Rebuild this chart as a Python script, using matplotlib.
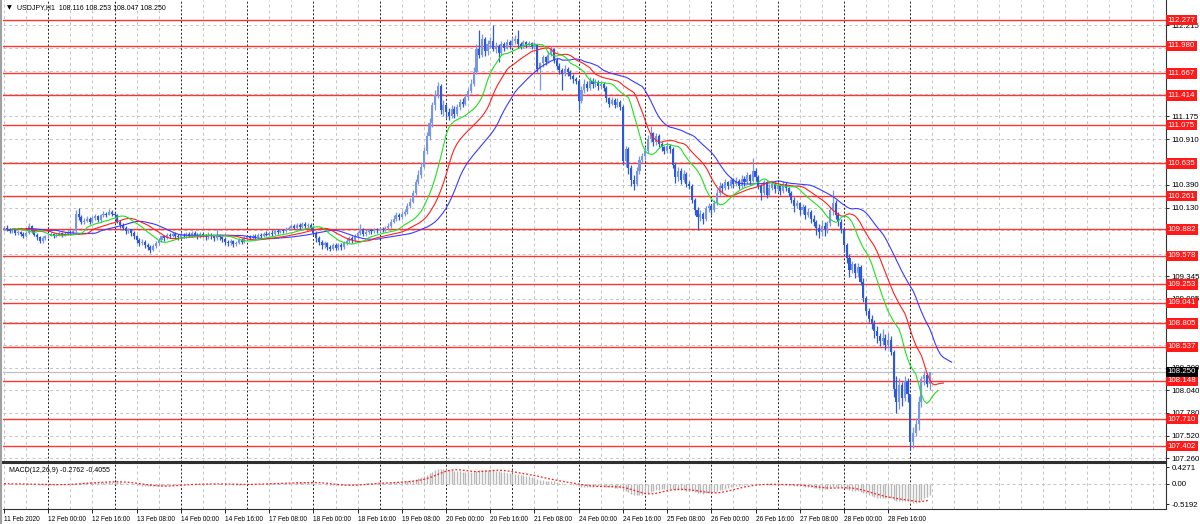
import numpy as np
import pandas as pd
import matplotlib.pyplot as plt

# USDJPY H1 bars, 11 Feb 2020 08:00 .. 2 Mar 2020 07:00
first_open = 109.88
close = [
    109.90, 109.88, 109.86, 109.87, 109.84, 109.85, 109.83, 109.80,
    109.84, 109.92, 109.86, 109.82, 109.79, 109.75, 109.78, 109.80,
    109.81, 109.83, 109.80, 109.82, 109.84, 109.81, 109.83, 109.85,
    109.84, 109.86, 110.06, 110.02, 109.96, 109.98, 110.00, 109.97,
    110.01, 110.03, 109.99, 110.04, 110.06, 110.05, 110.08, 110.06,
    110.04, 109.97, 109.93, 109.90, 109.86, 109.88, 109.84, 109.80,
    109.76, 109.72, 109.74, 109.70, 109.68, 109.65, 109.69, 109.72,
    109.76, 109.80, 109.78, 109.82, 109.80, 109.83, 109.81, 109.79,
    109.82, 109.80, 109.83, 109.81, 109.84, 109.82, 109.80, 109.83,
    109.81, 109.79, 109.82, 109.80, 109.78, 109.81, 109.79, 109.77,
    109.74, 109.72, 109.75, 109.71, 109.73, 109.76, 109.74, 109.78,
    109.80, 109.78, 109.81, 109.79, 109.82, 109.80, 109.83, 109.82,
    109.84, 109.83, 109.86, 109.85, 109.87, 109.86, 109.89, 109.90,
    109.92, 109.90, 109.93, 109.91, 109.94, 109.92, 109.93, 109.90,
    109.84, 109.78, 109.74, 109.70, 109.72, 109.68, 109.66, 109.70,
    109.67, 109.70, 109.68, 109.72, 109.75, 109.78, 109.76, 109.80,
    109.84, 109.88, 109.83, 109.85, 109.87, 109.86, 109.88, 109.87,
    109.89, 109.88, 109.90, 109.92, 109.97, 110.00, 110.04, 110.02,
    110.06, 110.08, 110.15, 110.20, 110.30, 110.42, 110.50, 110.60,
    110.78, 110.95, 111.10, 111.30, 111.42, 111.52, 111.25, 111.30,
    111.22, 111.18, 111.26, 111.20, 111.28, 111.34, 111.32, 111.40,
    111.46, 111.55, 111.68, 111.95, 111.88, 112.06, 111.92, 112.00,
    112.04, 111.95, 111.98, 111.90, 112.00, 111.96, 112.02, 111.99,
    112.04, 112.06, 112.00, 111.98, 112.02, 111.99, 112.01, 111.97,
    111.99, 111.72, 111.78, 111.85, 111.80, 111.88, 111.95, 111.82,
    111.75, 111.70, 111.66, 111.72, 111.68, 111.64, 111.60, 111.58,
    111.35, 111.48, 111.55, 111.50, 111.58, 111.54, 111.57, 111.52,
    111.55, 111.50, 111.38, 111.32, 111.36, 111.30, 111.34, 111.28,
    110.66, 110.80, 110.58, 110.45, 110.40, 110.55, 110.68, 110.72,
    110.78, 110.92, 110.98, 110.88, 110.95, 110.86, 110.82, 110.78,
    110.84, 110.80, 110.62, 110.48, 110.55, 110.45, 110.52, 110.40,
    110.38, 110.22, 110.10, 110.02, 110.06, 110.00, 110.12, 110.15,
    110.10, 110.18, 110.30, 110.38, 110.35, 110.42, 110.38, 110.45,
    110.40, 110.44, 110.38, 110.46, 110.42, 110.50, 110.44, 110.55,
    110.48, 110.38, 110.30, 110.42, 110.28, 110.36, 110.40, 110.34,
    110.38, 110.32, 110.40, 110.35, 110.30, 110.22, 110.15, 110.18,
    110.10, 110.14, 110.05, 110.08, 110.00, 109.96, 109.90, 109.85,
    109.92, 109.88, 109.95, 110.10, 110.18, 110.05, 109.96, 109.88,
    109.70, 109.55, 109.42, 109.48, 109.38, 109.45, 109.28, 109.10,
    108.95, 108.86, 108.80, 108.72, 108.66, 108.60, 108.64, 108.56,
    108.62, 108.48, 108.05, 107.90, 108.10, 107.95, 108.15, 108.00,
    107.45, 107.55, 107.65, 107.90, 108.17, 108.22, 108.116, 108.250,
]
high = [
    109.92, 109.93, 109.90, 109.89, 109.88, 109.87, 109.86, 109.85,
    109.86, 109.95, 109.93, 109.87, 109.84, 109.81, 109.80, 109.82,
    109.83, 109.85, 109.84, 109.84, 109.86, 109.85, 109.85, 109.87,
    109.87, 109.88, 110.10, 110.13, 110.04, 110.01, 110.03, 110.02,
    110.03, 110.06, 110.05, 110.06, 110.09, 110.08, 110.11, 110.10,
    110.08, 110.06, 109.99, 109.95, 109.92, 109.90, 109.89, 109.86,
    109.82, 109.78, 109.77, 109.76, 109.72, 109.70, 109.71, 109.75,
    109.78, 109.82, 109.82, 109.84, 109.84, 109.85, 109.85, 109.83,
    109.85, 109.84, 109.85, 109.85, 109.86, 109.86, 109.84, 109.85,
    109.85, 109.83, 109.85, 109.84, 109.82, 109.88, 109.83, 109.81,
    109.79, 109.76, 109.77, 109.76, 109.75, 109.78, 109.78, 109.80,
    109.82, 109.82, 109.83, 109.83, 109.84, 109.84, 109.85, 109.86,
    109.86, 109.87, 109.88, 109.88, 109.89, 109.89, 109.91, 109.92,
    109.94, 109.94, 109.95, 109.95, 109.96, 109.96, 109.95, 109.95,
    109.92, 109.86, 109.80, 109.76, 109.75, 109.74, 109.70, 109.73,
    109.72, 109.73, 109.72, 109.75, 109.78, 109.81, 109.80, 109.83,
    109.86, 109.94, 109.90, 109.88, 109.89, 109.89, 109.90, 109.90,
    109.91, 109.91, 109.92, 109.95, 110.00, 110.04, 110.08, 110.07,
    110.09, 110.11, 110.18, 110.24, 110.33, 110.46, 110.56, 110.65,
    110.82, 110.99, 111.15, 111.34, 111.48, 111.57, 111.55, 111.36,
    111.32, 111.27, 111.30, 111.29, 111.32, 111.37, 111.38, 111.43,
    111.50, 111.60, 111.74, 112.00, 112.16, 112.12, 112.08, 112.05,
    112.08, 112.22, 112.02, 112.00, 112.04, 112.03, 112.06, 112.05,
    112.08, 112.10, 112.16, 112.03, 112.05, 112.04, 112.04, 112.03,
    112.02, 112.00, 111.80, 111.88, 111.87, 111.92, 111.98, 111.96,
    111.84, 111.78, 111.73, 111.76, 111.74, 111.70, 111.66, 111.63,
    111.60, 111.52, 111.60, 111.58, 111.62, 111.61, 111.60, 111.59,
    111.58, 111.57, 111.52, 111.40, 111.40, 111.38, 111.38, 111.36,
    111.30, 110.84, 110.82, 110.62, 110.50, 110.60, 110.72, 110.76,
    110.82, 110.96, 111.06, 111.00, 110.98, 110.97, 110.88, 110.84,
    110.88, 110.86, 110.82, 110.64, 110.60, 110.58, 110.56, 110.54,
    110.44, 110.40, 110.24, 110.14, 110.10, 110.08, 110.15, 110.18,
    110.17, 110.22, 110.34, 110.42, 110.41, 110.46, 110.44, 110.48,
    110.47, 110.48, 110.46, 110.50, 110.49, 110.54, 110.52, 110.70,
    110.58, 110.50, 110.40, 110.45, 110.43, 110.40, 110.44, 110.42,
    110.42, 110.40, 110.43, 110.42, 110.37, 110.32, 110.25, 110.22,
    110.20, 110.17, 110.16, 110.12, 110.10, 110.04, 109.99, 109.94,
    109.99, 109.96, 109.98, 110.14, 110.33, 110.22, 110.08, 110.00,
    109.90, 109.72, 109.60, 109.52, 109.50, 109.50, 109.47, 109.32,
    109.12, 108.98, 108.90, 108.84, 108.78, 108.70, 108.74, 108.68,
    108.70, 108.66, 108.50, 108.20, 108.18, 108.14, 108.20, 108.18,
    107.60, 107.62, 107.72, 107.98, 108.20, 108.26, 108.24, 108.253,
]
low = [
    109.86, 109.86, 109.84, 109.84, 109.82, 109.82, 109.80, 109.78,
    109.79, 109.83, 109.84, 109.80, 109.76, 109.72, 109.73, 109.76,
    109.78, 109.80, 109.78, 109.79, 109.81, 109.79, 109.80, 109.82,
    109.82, 109.83, 109.85, 109.99, 109.94, 109.94, 109.96, 109.94,
    109.95, 109.99, 109.97, 109.97, 110.02, 110.02, 110.04, 110.03,
    110.01, 109.95, 109.90, 109.87, 109.83, 109.84, 109.81, 109.77,
    109.73, 109.69, 109.70, 109.67, 109.65, 109.61, 109.63, 109.67,
    109.70, 109.74, 109.75, 109.77, 109.78, 109.79, 109.78, 109.76,
    109.77, 109.78, 109.78, 109.79, 109.80, 109.80, 109.77, 109.78,
    109.79, 109.76, 109.77, 109.77, 109.75, 109.76, 109.76, 109.74,
    109.70, 109.69, 109.70, 109.68, 109.69, 109.71, 109.71, 109.72,
    109.76, 109.76, 109.77, 109.77, 109.78, 109.78, 109.79, 109.80,
    109.80, 109.81, 109.82, 109.83, 109.84, 109.84, 109.85, 109.87,
    109.88, 109.88, 109.89, 109.89, 109.90, 109.90, 109.90, 109.87,
    109.82, 109.74, 109.70, 109.66, 109.67, 109.65, 109.63, 109.64,
    109.64, 109.65, 109.65, 109.66, 109.70, 109.73, 109.72, 109.74,
    109.78, 109.82, 109.80, 109.81, 109.83, 109.83, 109.84, 109.84,
    109.85, 109.85, 109.86, 109.88, 109.90, 109.95, 109.98, 109.99,
    110.00, 110.03, 110.06, 110.12, 110.18, 110.28, 110.40, 110.47,
    110.58, 110.74, 110.90, 111.05, 111.25, 111.38, 111.20, 111.18,
    111.16, 111.13, 111.15, 111.16, 111.18, 111.25, 111.28, 111.30,
    111.36, 111.44, 111.52, 111.66, 111.84, 111.85, 111.86, 111.88,
    111.96, 111.92, 111.90, 111.80, 111.88, 111.92, 111.94, 111.95,
    111.97, 112.00, 111.96, 111.94, 111.96, 111.96, 111.97, 111.94,
    111.94, 111.68, 111.48, 111.74, 111.76, 111.78, 111.86, 111.78,
    111.72, 111.66, 111.48, 111.64, 111.64, 111.60, 111.56, 111.54,
    111.25, 111.33, 111.44, 111.46, 111.48, 111.50, 111.51, 111.48,
    111.49, 111.47, 111.34, 111.28, 111.30, 111.27, 111.28, 111.25,
    110.62, 110.60, 110.52, 110.38, 110.33, 110.38, 110.52, 110.64,
    110.68, 110.76, 110.88, 110.84, 110.85, 110.82, 110.78, 110.74,
    110.75, 110.76, 110.58, 110.41, 110.44, 110.40, 110.42, 110.37,
    110.34, 110.18, 110.04, 109.87, 109.98, 109.94, 109.98, 110.08,
    110.05, 110.08, 110.16, 110.28, 110.30, 110.33, 110.34, 110.36,
    110.36, 110.38, 110.34, 110.36, 110.38, 110.40, 110.40, 110.42,
    110.44, 110.34, 110.22, 110.28, 110.24, 110.26, 110.33, 110.30,
    110.31, 110.28, 110.30, 110.32, 110.26, 110.18, 110.08, 110.12,
    110.05, 110.06, 110.00, 110.02, 109.95, 109.92, 109.82, 109.78,
    109.80, 109.80, 109.84, 109.92, 110.04, 110.00, 109.92, 109.84,
    109.62, 109.50, 109.34, 109.38, 109.32, 109.34, 109.24, 109.05,
    108.90, 108.82, 108.74, 108.64, 108.58, 108.55, 108.56, 108.50,
    108.52, 108.44, 107.96, 107.78, 107.82, 107.86, 107.92, 107.90,
    107.36, 107.38, 107.52, 107.58, 107.85, 108.10, 108.08, 108.047,
]

levels = [112.277, 111.980, 111.667, 111.414, 111.075, 110.635, 110.261, 109.882,
          109.578, 109.253, 109.041, 108.805, 108.537, 108.148, 107.710, 107.402]
price_ticks = [112.215, 111.955, 111.695, 111.435, 111.175, 110.910, 110.650, 110.390,
               110.130, 109.870, 109.605, 109.345, 109.085, 108.825, 108.560, 108.300,
               108.040, 107.780, 107.520, 107.260]
bid = 108.250
time_labels = ["11 Feb 2020", "12 Feb 00:00", "12 Feb 16:00", "13 Feb 08:00", "14 Feb 00:00",
               "14 Feb 16:00", "17 Feb 08:00", "18 Feb 00:00", "18 Feb 16:00", "19 Feb 08:00",
               "20 Feb 00:00", "20 Feb 16:00", "21 Feb 08:00", "24 Feb 00:00", "24 Feb 16:00",
               "25 Feb 08:00", "26 Feb 00:00", "26 Feb 16:00", "27 Feb 08:00", "28 Feb 00:00",
               "28 Feb 16:00"]
macd_ticks = [0.4271, 0.0, -0.5192]
macd_tick_labels = ["0.4271", "0.00", "-0.5192"]

plt.rcParams['font.family'] = ['Liberation Sans', 'DejaVu Sans']

closes = np.array(close)
opens = np.r_[first_open, closes[:-1]]
highs = np.maximum(np.array(high), np.maximum(opens, closes))
lows = np.minimum(np.array(low), np.minimum(opens, closes))
idx = np.arange(len(closes))
n_bars = len(closes)


def smma(values, n):
    out = np.empty(len(values))
    out[0] = values[0]
    for i in range(1, len(values)):
        out[i] = (out[i - 1] * (n - 1) + values[i]) / n
    return out


# alligator on median price
median = (highs + lows) / 2
jaw = smma(median, 13)
teeth = smma(median, 8)
lips = smma(median, 5)

# MACD 12,26,9 (signal = SMA of main)
cs = pd.Series(closes)
macd = cs.ewm(span=12, adjust=False).mean() - cs.ewm(span=26, adjust=False).mean()
signal = macd.rolling(9, min_periods=1).mean()

W, H = 1200, 524
fig = plt.figure(figsize=(W / 100, H / 100), dpi=100)
fig.patch.set_facecolor('white')

px_per_bar = 2.763
x0 = -1 / px_per_bar
x1 = (1166 - 4) / px_per_bar
y_lo, y_hi = 107.219, 112.506
px_per_price = 462 / (y_hi - y_lo)

ax = fig.add_axes([3 / W, 1 - 462 / H, 1163 / W, 462 / H])
ax2 = fig.add_axes([3 / W, 1 - 509 / H, 1163 / W, 46 / H])

ax.set_xlim(x0, x1)
ax.set_ylim(y_lo, y_hi)
ax2.set_xlim(x0, x1)
ax2.set_ylim(-0.647, 0.53)

grid_kw = dict(color='#c4c4c4', lw=0.7, ls=(0, (3, 3)), zorder=0.5)
sep_kw = dict(color='#202020', lw=0.7, ls=(0, (2, 2)), zorder=0.6)
for a in (ax, ax2):
    for g in np.arange(0, x1, 8):
        if g % 24 == 16 and g < n_bars:
            a.axvline(g, **sep_kw)
        else:
            a.axvline(g, **grid_kw)

for p in price_ticks:
    ax.axhline(p, **grid_kw)
ax2.axhline(0, **grid_kw)

# levels
for lv in levels:
    ax.axhline(lv, color='#ff3535', lw=1.0, zorder=1)
ax.axhline(bid, color='#c0c0c0', lw=0.9, zorder=1)

# candles
bull = closes >= opens
col = np.where(bull, '#7896e8', '#2d58dc')
ax.vlines(idx, lows, highs, colors=col, lw=0.9, zorder=2)
body_lo = np.minimum(opens, closes)
body_h = np.maximum(np.abs(closes - opens), 0.008)
ax.bar(idx, body_h, bottom=body_lo, width=0.75, color=col, linewidth=0, zorder=2)

ax.plot(idx + 8, jaw, color='#3a3aff', lw=0.8, zorder=3)
ax.plot(idx + 5, teeth, color='#ff2020', lw=0.8, zorder=3)
ax.plot(idx + 3, lips, color='#20e020', lw=0.8, zorder=3)

# right price scale; labels sitting right under a level box are hidden, as in the terminal
marks = levels + [bid]
shown = [p for p in price_ticks
         if min(abs(p - m) for m in marks) * px_per_price > 3.2]
ax.yaxis.tick_right()
ax.set_yticks(price_ticks)
ax.set_yticklabels([f"{p:.3f}" if p in shown else "" for p in price_ticks])
ax.tick_params(axis='y', length=2, width=0.6, pad=2, labelsize=5.7, colors='black')
ax.set_xticks([])
for lv in levels:
    ax.text(1.0016, lv, f"{lv:.3f}", transform=ax.get_yaxis_transform(), fontsize=5.7,
            color='white', va='center', ha='left', zorder=10, clip_on=False,
            bbox=dict(boxstyle='square,pad=0.22', fc='#ff1a1a', ec='none'))
ax.text(1.0016, bid, f"{bid:.3f}", transform=ax.get_yaxis_transform(), fontsize=5.7,
        color='white', va='center', ha='left', zorder=10, clip_on=False,
        bbox=dict(boxstyle='square,pad=0.22', fc='black', ec='none'))

ax.text(4 / 1163, 1 - 8 / 462, "\u25bc", transform=ax.transAxes, fontsize=4.5,
        va='center', ha='left', family=['DejaVu Sans'])
ax.text(14 / 1163, 1 - 8 / 462, "USDJPY,H1  108.116 108.253 108.047 108.250",
        transform=ax.transAxes, fontsize=5, va='center', ha='left')

# MACD panel
ax2.vlines(idx, 0, macd.values, colors='#b8b8b8', lw=1.0, zorder=2)
ax2.plot(idx, signal.values, color='#ff2020', lw=0.9, ls=(0, (1.5, 1.5)), zorder=3)
ax2.text(6 / 1163, 1 - 4 / 46, "MACD(12,26,9) -0.2762 -0.4055", transform=ax2.transAxes,
         fontsize=5, va='top', ha='left')
ax2.yaxis.tick_right()
ax2.set_yticks(macd_ticks)
ax2.set_yticklabels(macd_tick_labels)
ax2.tick_params(axis='y', length=2, width=0.6, pad=2, labelsize=5.7)
ax2.set_xticks(np.arange(0, 16 * len(time_labels), 16))
ax2.set_xticklabels(time_labels, ha='left')
ax2.tick_params(axis='x', length=3, width=0.6, pad=2, labelsize=4.7)

for a in (ax, ax2):
    a.set_facecolor('white')
    a.spines['left'].set_visible(False)
    for s in ('top', 'bottom', 'right'):
        a.spines[s].set_color('#303030')
        a.spines[s].set_linewidth(0.8)
ax.spines['top'].set_visible(False)
ax.spines['bottom'].set_linewidth(1.5)
ax2.spines['top'].set_linewidth(1.5)

fig.add_artist(plt.Line2D([1 / W, 1 / W], [0, 1], color='#a0a0a0', lw=1.5))

fig.savefig('out.png', dpi=100)
